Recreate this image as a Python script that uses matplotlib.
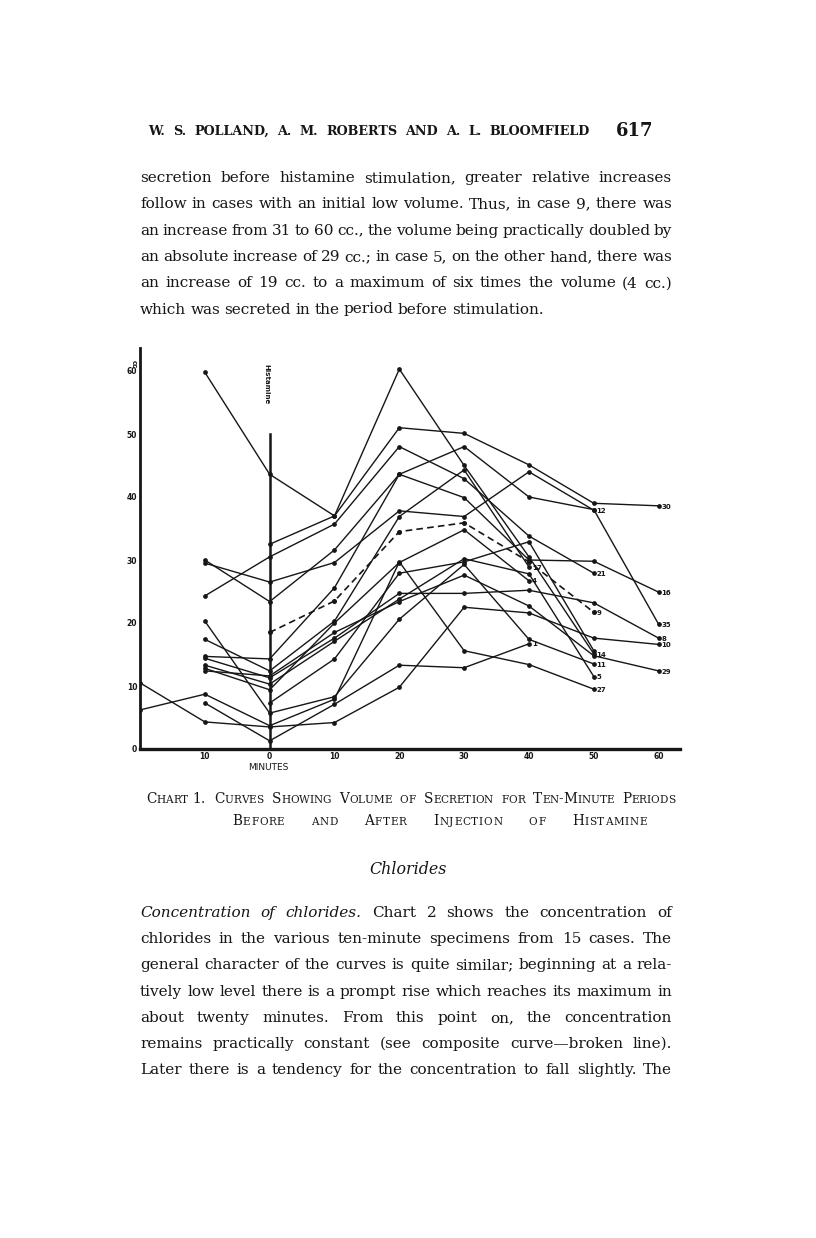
import numpy as np
import matplotlib
matplotlib.use('Agg')
import matplotlib.pyplot as plt

W, H = 816, 1238
INK = '#161616'
SERIF = 'DejaVu Serif'
BODY = 11.0

# ---- chart data (cc. per ten-minute period) ----
minutes = [-20, -10, 0, 10, 20, 30, 40, 50, 60]
tick_pos = [-10, 0, 10, 20, 30, 40, 50, 60]
tick_txt = ['10', '0', '10', '20', '30', '40', '50', '60']
n = np.nan
c14 = [n, n, 32.5, 37.0, 60.3, 45.0, 30.5, 15.1, n]
c30 = [n, 59.8, 43.6, 37.0, 51.0, 50.1, 45.1, 39.0, 38.6]
c21 = [n, 24.3, 30.5, 35.7, 48.0, 42.9, 33.8, 27.9, n]
c35 = [n, 30.0, 23.4, 31.6, 43.6, 48.0, 40.0, 38.0, 19.8]
c12 = [n, 29.5, 26.5, 29.6, 37.8, 36.9, 44.0, 37.9, n]
c16 = [n, 14.7, 14.3, 25.6, 43.6, 39.9, 30.0, 29.8, 24.9]
c11 = [n, 20.3, 5.7, 8.3, 20.6, 29.3, 17.4, 13.5, n]
c27 = [6.2, 8.7, 3.7, 7.9, 29.7, 15.6, 13.4, 9.5, n]
c10 = [10.5, 4.3, 3.5, 4.2, 9.8, 22.5, 21.6, 17.6, 16.6]
c1 = [n, 7.3, 1.3, 7.1, 13.3, 12.9, 16.7, n, n]
c17 = [n, 17.4, 12.4, 20.3, 36.9, 44.3, 28.9, n, n]
c8 = [n, 14.4, 11.3, 17.6, 24.7, 24.7, 25.2, 23.2, 17.6]
c5 = [n, 13.3, 10.3, 17.1, 23.8, 30.2, 27.8, 11.5, n]
c4 = [n, 12.8, 9.4, 20.0, 29.6, 34.8, 26.7, n, n]
c29 = [n, 12.4, 11.6, 18.5, 23.4, 27.6, 22.7, 14.8, 12.4]
c2 = [n, n, 7.3, 14.3, 27.9, 29.7, 32.9, 15.6, n]
composite = [n, n, 18.5, 23.5, 34.5, 35.9, 29.7, 21.7, n]

curves = [c14, c30, c21, c35, c12, c16, c11, c27, c10, c1, c17, c8, c5, c4, c29, c2]
curve_labels = ['14', '30', '21', '35', '12', '16', '11', '27', '10', '1', '17', '8', '5', '4', '29', '']

# ---- page text ----
header = "W. S. POLLAND, A. M. ROBERTS AND A. L. BLOOMFIELD"
para1 = [
    "secretion before histamine stimulation, greater relative increases",
    "follow in cases with an initial low volume.  Thus, in case 9, there was",
    "an increase from 31 to 60 cc., the volume being practically doubled by",
    "an absolute increase of 29 cc.; in case 5, on the other hand, there was",
    "an increase of 19 cc. to a maximum of six times the volume (4 cc.)",
    "which was secreted in the period before stimulation.",
]
para2 = [
    "Concentration of chlorides. Chart 2 shows the concentration of",
    "chlorides in the various ten-minute specimens from 15 cases.  The",
    "general character of the curves is quite similar; beginning at a rela-",
    "tively low level there is a prompt rise which reaches its maximum in",
    "about twenty minutes.  From this point on, the concentration",
    "remains practically constant (see composite curve\u2014broken line).",
    "Later there is a tendency for the concentration to fall slightly.  The",
]

fig = plt.figure(figsize=(W / 100, H / 100), dpi=100)
fig.patch.set_facecolor('white')
renderer = fig.canvas.get_renderer()


def fx(x, y):
    return x / W, 1 - y / H


def text_w(s, **kw):
    t = fig.text(0, 0, s, **kw)
    w = t.get_window_extent(renderer).width
    t.remove()
    return w


def put_line(line, x0, yb, x1=None, size=BODY, italic_words=0, weight='normal'):
    words = line.split()
    kws = [dict(family=SERIF, fontsize=size, weight=weight,
                style='italic' if i < italic_words else 'normal') for i in range(len(words))]
    widths = [text_w(w, **k) for w, k in zip(words, kws)]
    if x1 is None or len(words) < 2:
        gap = 0.28 * size * 100 / 72
    else:
        gap = (x1 - x0 - sum(widths)) / (len(words) - 1)
    x = x0
    for w, k, wd in zip(words, kws, widths):
        fig.text(*fx(x, yb), w, va='baseline', ha='left', color=INK, **k)
        x += wd + gap


def sc_runs(word, big, small):
    runs = []
    for ch in word:
        if ch.islower():
            s, c = small, ch.upper()
        else:
            s, c = big, ch
        if runs and runs[-1][1] == s:
            runs[-1][0] += c
        else:
            runs.append([c, s])
    return runs


# small caps line; track adds letter spacing in pixels
def put_sc_line(line, x0, yb, x1=None, big=9.8, small=7.6, track=0.0):
    words = line.split()
    runs = [sc_runs(w, big, small) for w in words]
    pieces = []
    for rr in runs:
        wp = []
        for txt, sz in rr:
            for ch in txt:
                wp.append((ch, sz, text_w(ch, family=SERIF, fontsize=sz) + track))
        pieces.append(wp)
    widths = [sum(p[2] for p in wp) - track for wp in pieces]
    if x1 is None or len(words) < 2:
        gap = 0.3 * big * 100 / 72
    else:
        gap = (x1 - x0 - sum(widths)) / (len(words) - 1)
    x = x0
    for wp in pieces:
        for ch, sz, w in wp:
            fig.text(*fx(x, yb), ch, va='baseline', ha='left', color=INK,
                     family=SERIF, fontsize=sz)
            x += w
        x += gap - track


# header
put_line(header, 148, 135, 590, size=9.2, weight='bold')
fig.text(*fx(616, 136), '617', va='baseline', ha='left', family=SERIF,
         fontsize=13, weight='bold', color=INK)

# first paragraph
for i, line in enumerate(para1):
    yb = 182 + i * 26.3
    put_line(line, 140, yb, None if i == len(para1) - 1 else 672)

# ---- chart ----
ax = fig.add_axes([140 / W, 1 - 749 / H, 540 / W, 401 / H])
ax.set_xlim(-20, -20 + 540 / 6.483)
ax.set_ylim(0, 401 / 6.3)
for s in ['top', 'right']:
    ax.spines[s].set_visible(False)
ax.spines['left'].set_linewidth(2.0)
ax.spines['bottom'].set_linewidth(2.4)
ax.spines['left'].set_color(INK)
ax.spines['bottom'].set_color(INK)

ax.plot([0, 0], [0, 50], color=INK, lw=1.8)

for c, lab in zip(curves, curve_labels):
    ax.plot(minutes, c, color=INK, lw=1.0, marker='o', ms=2.4)
    if lab:
        k = max(i for i, v in enumerate(c) if not np.isnan(v))
        ax.annotate(lab, (minutes[k], c[k]), xytext=(2, -0.5), textcoords='offset points',
                    fontsize=5, weight='bold', va='center', ha='left', color=INK)

ax.plot(minutes, composite, color=INK, lw=1.2, ls=(0, (4, 2.5)), marker='o', ms=2.6)
kc = max(i for i, v in enumerate(composite) if not np.isnan(v))
ax.annotate('9', (minutes[kc], composite[kc]), xytext=(2, -0.5), textcoords='offset points',
            fontsize=5, weight='bold', va='center', ha='left', color=INK)

ax.set_xticks(tick_pos)
ax.set_xticklabels(tick_txt)
ax.set_yticks([0, 10, 20, 30, 40, 50, 60])
ax.set_yticklabels(['0', '10', '20', '30', '40', '50', '60'])
ax.tick_params(length=0, labelsize=5.5, pad=2, colors=INK)
for lab in ax.get_xticklabels() + ax.get_yticklabels():
    lab.set_fontweight('bold')

fig.text(*fx(268, 768), 'MINUTES', ha='center', va='center', fontsize=6.5, color=INK)
fig.text(*fx(266, 384), 'Histamine', ha='center', va='center', rotation=-90,
         fontsize=5, weight='bold', color=INK)
fig.text(*fx(134, 364), 'cc', ha='center', va='center', rotation=-90,
         fontsize=5, weight='bold', color=INK)

# caption
put_sc_line("Chart 1.", 146, 803)
put_sc_line("Curves Showing Volume of Secretion for Ten-Minute Periods", 214, 803, 675)
put_sc_line("Before and After Injection of Histamine", 232, 825, 647, track=0.7)

# chlorides heading
fig.text(*fx(408, 874), 'Chlorides', ha='center', va='baseline', family=SERIF,
         style='italic', fontsize=BODY + 0.4, color=INK)

# second paragraph
for i, line in enumerate(para2):
    yb = 917 + i * 26.2
    put_line(line, 140, yb, 672, italic_words=3 if i == 0 else 0)

fig.savefig('out.png', dpi=100)
